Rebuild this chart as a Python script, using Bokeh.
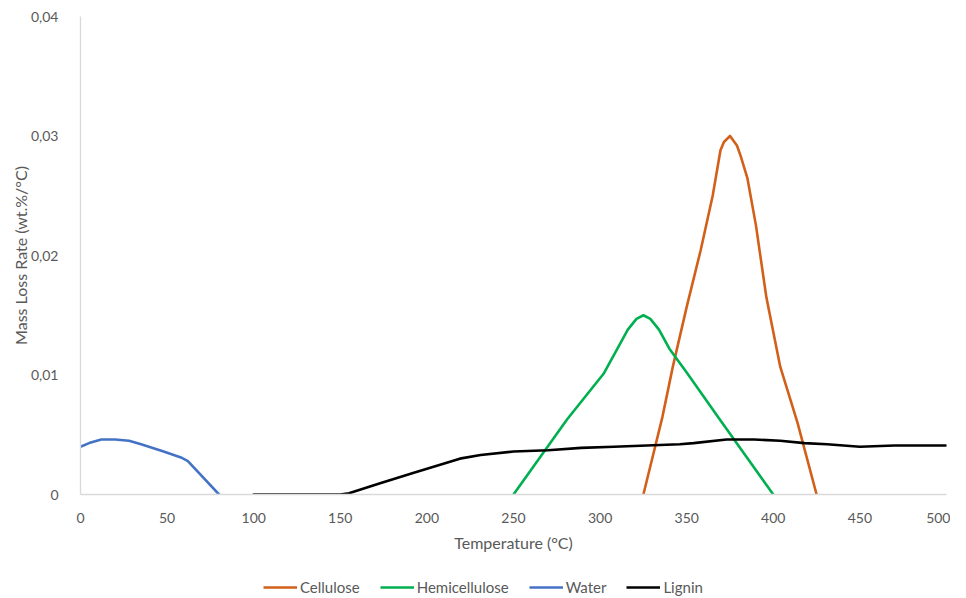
from bokeh.plotting import figure
from bokeh.layouts import column
from bokeh.models import Range1d, FixedTicker, Legend, LegendItem
from bokeh.embed import file_html
from bokeh.resources import INLINE

# ---- data ----
cellulose_t = [325, 336, 342, 350, 358, 365, 369.5, 371.5, 375, 379, 381, 385, 390, 396, 404, 414, 425]
cellulose_v = [0, 0.0065, 0.0107, 0.0157, 0.0204, 0.025, 0.0288, 0.0295, 0.030, 0.0292, 0.0284, 0.0265, 0.0225, 0.0165, 0.0107, 0.006, 0]

hemi_t = [250, 281, 302, 310, 316, 321, 325, 329, 334, 340, 350, 368, 400]
hemi_v = [0, 0.0063, 0.0101, 0.0122, 0.0138, 0.0147, 0.015, 0.0147, 0.0138, 0.0122, 0.0102, 0.0065, 0]

water_t = [0, 5, 12, 20, 28, 35, 48, 58, 62, 80]
water_v = [0.004, 0.0043, 0.0046, 0.0046, 0.0045, 0.0042, 0.0036, 0.0031, 0.0028, 0]

lignin_t = [100, 125, 150, 155, 173, 192, 219, 231, 250, 270, 289, 308, 327, 346, 354, 373, 389, 404, 418, 431, 450, 470, 500]
lignin_v = [0, 0, 0, 0.0001, 0.00095, 0.0018, 0.003, 0.0033, 0.0036, 0.0037, 0.0039, 0.004, 0.0041, 0.0042, 0.0043, 0.0046, 0.0046, 0.0045, 0.0043, 0.0042, 0.004, 0.0041, 0.0041]

x_ticks = [0, 50, 100, 150, 200, 250, 300, 350, 400, 450, 500]
y_ticks = [0, 0.01, 0.02, 0.03, 0.04]
y_tick_labels = ["0", "0,01", "0,02", "0,03", "0,04"]

series_names = ["Cellulose", "Hemicellulose", "Water", "Lignin"]
series_colors = ["#D2601A", "#00B050", "#4472C4", "#000000"]
series_t = [cellulose_t, hemi_t, water_t, lignin_t]
series_v = [cellulose_v, hemi_v, water_v, lignin_v]

FONT = "Lato"
TXT = "#595959"
AXC = "#D9D9D9"
LW = 2.6

p = figure(width=950, height=560, output_backend="svg", toolbar_location=None,
           x_range=Range1d(0, 500), y_range=Range1d(0, 0.04),
           min_border_left=80, min_border_right=4, min_border_top=16, min_border_bottom=66)
p.outline_line_color = None
p.xgrid.visible = False
p.ygrid.visible = False

for t, v, c in zip(series_t, series_v, series_colors):
    p.line(t, v, line_color=c, line_width=LW, line_join="round", line_cap="round")

# axes
p.xaxis.ticker = FixedTicker(ticks=x_ticks)
p.yaxis.ticker = FixedTicker(ticks=y_ticks)
p.yaxis.major_label_overrides = {t: l for t, l in zip(y_ticks, y_tick_labels)}
for ax in (p.xaxis[0], p.yaxis[0]):
    ax.axis_line_color = AXC
    ax.axis_line_width = 1.3
    ax.major_tick_line_color = None
    ax.minor_tick_line_color = None
    ax.major_label_text_font = FONT
    ax.major_label_text_font_size = "14px"
    ax.major_label_text_color = TXT
    ax.axis_label_text_font = FONT
    ax.axis_label_text_font_size = "16px"
    ax.axis_label_text_color = TXT
    ax.axis_label_text_font_style = "normal"

p.xaxis.axis_label = "Temperature (°C)"
p.yaxis.axis_label = "Mass Loss Rate (wt.%/°C)"
p.xaxis.major_label_standoff = 12
p.yaxis.major_label_standoff = 16
p.xaxis.axis_label_standoff = 7
p.yaxis.axis_label_standoff = -2

# legend strip (separate figure so it can sit below the axis title);
# its lines lie outside its ranges, so only the legend shows
lg = figure(width=950, height=36, output_backend="svg", toolbar_location=None,
            x_range=Range1d(-2, -1), y_range=Range1d(-2, -1),
            min_border_left=0, min_border_right=0, min_border_top=0, min_border_bottom=0)
lg.axis.visible = False
lg.xgrid.visible = False
lg.ygrid.visible = False
lg.outline_line_color = None
proxies = [lg.line(t, v, line_color=c, line_width=LW)
           for t, v, c in zip(series_t, series_v, series_colors)]
legend = Legend(items=[LegendItem(label=n, renderers=[r]) for n, r in zip(series_names, proxies)],
                orientation="horizontal", location=(183, 0),
                label_text_font=FONT, label_text_font_size="15px", label_text_color=TXT,
                glyph_width=34, glyph_height=14, label_standoff=3, spacing=20,
                border_line_color=None, background_fill_alpha=0, padding=2, margin=0)
lg.add_layout(legend, "center")

layout = column(p, lg, spacing=0)
open("out.html", "w").write(file_html(layout, INLINE))
